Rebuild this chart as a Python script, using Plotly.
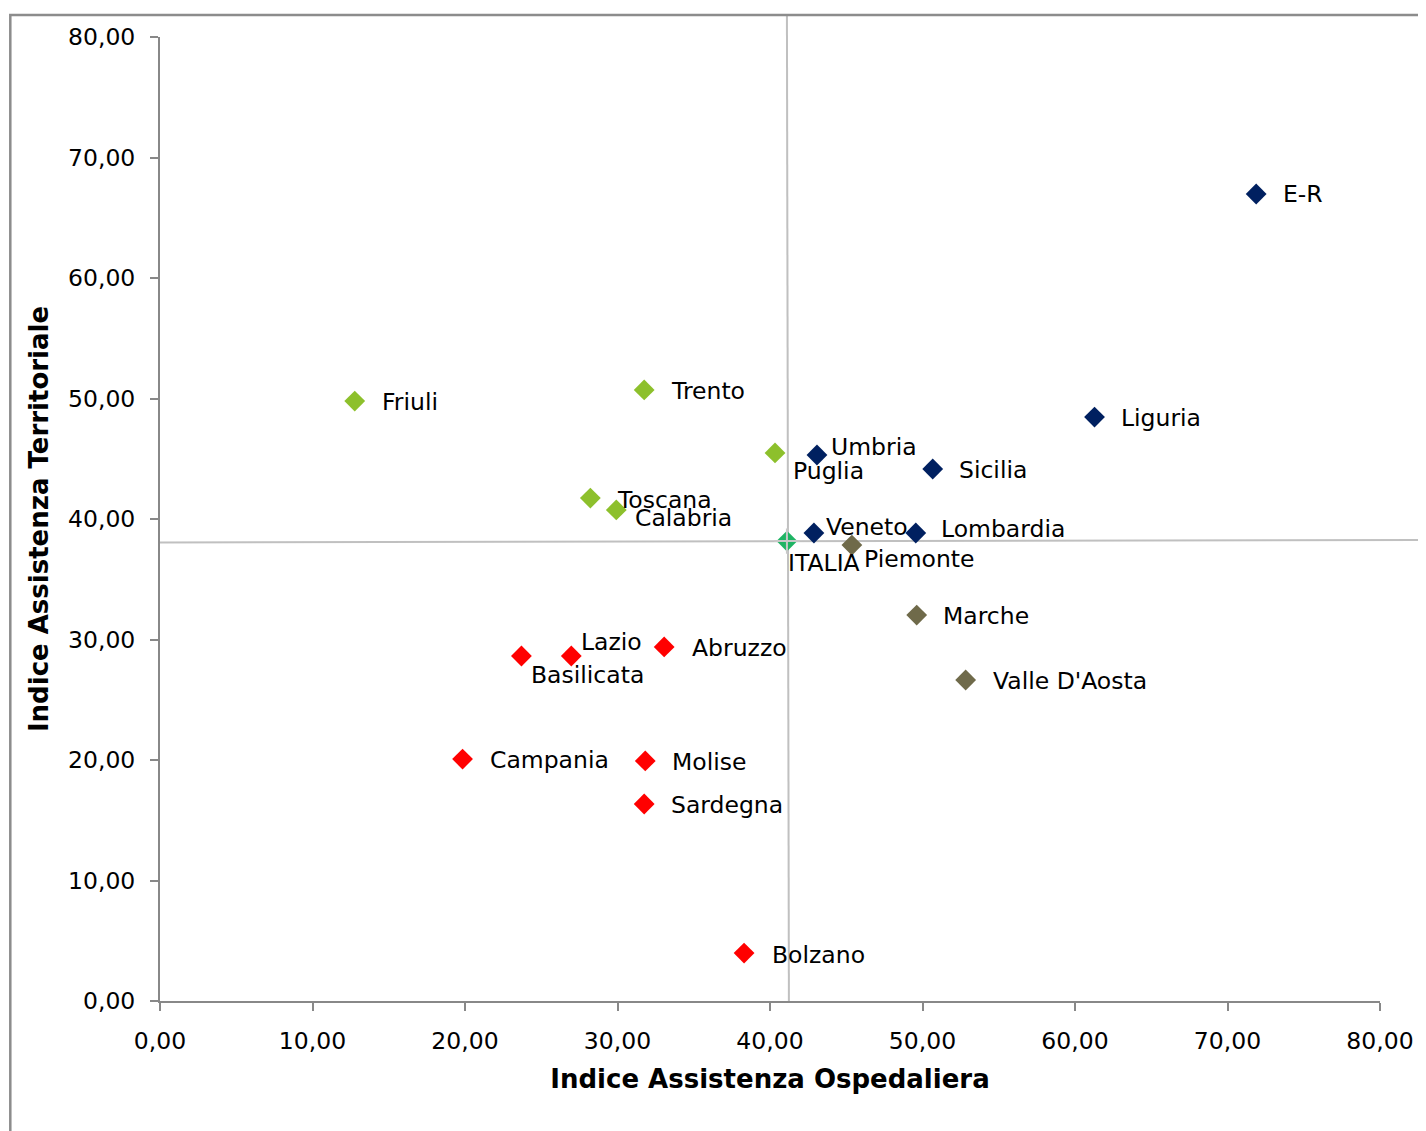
import plotly.graph_objects as go

# regioni: indice assistenza ospedaliera (x) e territoriale (y)
navy_names = ['E-R', 'Liguria', 'Sicilia', 'Umbria', 'Veneto', 'Lombardia']
navy_x = [71.88, 61.28, 50.67, 43.08, 42.88, 49.56]
navy_y = [66.97, 48.46, 44.15, 45.31, 38.84, 38.84]

olive_names = ['Piemonte', 'Marche', "Valle D'Aosta"]
olive_x = [45.37, 49.62, 52.83]
olive_y = [37.84, 32.03, 26.64]

green_names = ['Friuli', 'Trento', 'Puglia', 'Toscana', 'Calabria']
green_x = [12.77, 31.75, 40.33, 28.22, 29.92]
green_y = [49.79, 50.71, 45.48, 41.74, 40.75]

red_names = ['Lazio', 'Basilicata', 'Abruzzo', 'Campania', 'Molise', 'Sardegna', 'Bolzano']
red_x = [26.97, 23.70, 33.06, 19.84, 31.82, 31.75, 38.30]
red_y = [28.63, 28.63, 29.38, 20.08, 19.92, 16.35, 3.98]

italia_name = ['ITALIA']
italia_x = [41.11]
italia_y = [38.17]

# linee di riferimento (media Italia)
vline_x = [41.11, 41.24]
hline_y = [38.05, 38.26]

ticks = [0, 10, 20, 30, 40, 50, 60, 70, 80]

# label offsets in screen px (dx right, dy down)
label_off = {
    'E-R': (26, 0), 'Liguria': (25, 1), 'Sicilia': (25, 1), 'Umbria': (13, -8),
    'Veneto': (11, -6), 'Lombardia': (24, -4), 'Piemonte': (11, 14),
    'Marche': (25, 1), "Valle D'Aosta": (26, 1), 'Friuli': (26, 1),
    'Trento': (26, 1), 'Puglia': (17, 18), 'Toscana': (26, 2),
    'Calabria': (18, 8), 'Lazio': (9, -14), 'Basilicata': (9, 19),
    'Abruzzo': (27, 1), 'Campania': (26, 1), 'Molise': (26, 1),
    'Sardegna': (26, 1), 'Bolzano': (27, 2), 'ITALIA': (0, 22),
}

FONT = 'DejaVu Sans'
MSIZE = 16

fig = go.Figure()

fig.add_trace(go.Scatter(x=italia_x, y=italia_y, mode='markers',
                         marker=dict(symbol='diamond', size=MSIZE, color='#1FB464'),
                         hoverinfo='skip', showlegend=False))
fig.add_trace(go.Scatter(x=italia_x, y=italia_y, mode='markers',
                         marker=dict(symbol='cross-thin', size=18,
                                     line=dict(color='#C8C8C8', width=2)),
                         hoverinfo='skip', showlegend=False))

groups = [
    (navy_names, navy_x, navy_y, '#002060'),
    (olive_names, olive_x, olive_y, '#6F6A4A'),
    (green_names, green_x, green_y, '#8DC02C'),
    (red_names, red_x, red_y, '#FF0000'),
]
for names, xs, ys, col in groups:
    fig.add_trace(go.Scatter(x=xs, y=ys, mode='markers', text=names,
                             marker=dict(symbol='diamond', size=MSIZE, color=col),
                             showlegend=False))

all_names = navy_names + olive_names + green_names + red_names + italia_name
all_x = navy_x + olive_x + green_x + red_x + italia_x
all_y = navy_y + olive_y + green_y + red_y + italia_y
for n, x, y in zip(all_names, all_x, all_y):
    dx, dy = label_off[n]
    fig.add_annotation(x=x, y=y, text=n, showarrow=False, xanchor='left',
                       yanchor='middle', xshift=dx - 1, yshift=-dy,
                       font=dict(family=FONT, size=23.5, color='black'))

# reference lines
fig.add_shape(type='line', xref='x', yref='paper', x0=vline_x[0], y0=1.0228,
              x1=vline_x[1], y1=0, line=dict(color='#C0C0C0', width=2), layer='below')
fig.add_shape(type='line', xref='paper', yref='paper', x0=0, y0=hline_y[0] / 80,
              x1=1.04, y1=hline_y[1] / 80, line=dict(color='#C0C0C0', width=2), layer='below')

# chart border
fig.add_shape(type='rect', xref='paper', yref='paper', x0=-0.1227, y0=-0.2,
              x1=1.3, y1=1.0228, line=dict(color='#8C8C8C', width=2.5), layer='below')

axis_common = dict(
    range=[0, 80], tickvals=ticks, tickformat='.2f', showgrid=False, zeroline=False,
    showline=True, linecolor='#888888', linewidth=2,
    ticks='outside', ticklen=8, tickwidth=2, tickcolor='#888888',
    tickfont=dict(family=FONT, size=23.5, color='black'),
    ticklabelstandoff=10,
)

fig.update_layout(
    width=1418, height=1123,
    margin=dict(l=152, r=42, t=29, b=130),
    paper_bgcolor='white', plot_bgcolor='white',
    separators=',.',
    showlegend=False,
    xaxis=dict(axis_common,
               title=dict(text='<b>Indice Assistenza Ospedaliera</b>', standoff=16,
                          font=dict(family=FONT, size=26, color='black'))),
    yaxis=dict(axis_common,
               title=dict(text='<b>Indice Assistenza Territoriale</b>', standoff=12,
                          font=dict(family=FONT, size=26, color='black'))),
)

fig.write_html('out.html')
